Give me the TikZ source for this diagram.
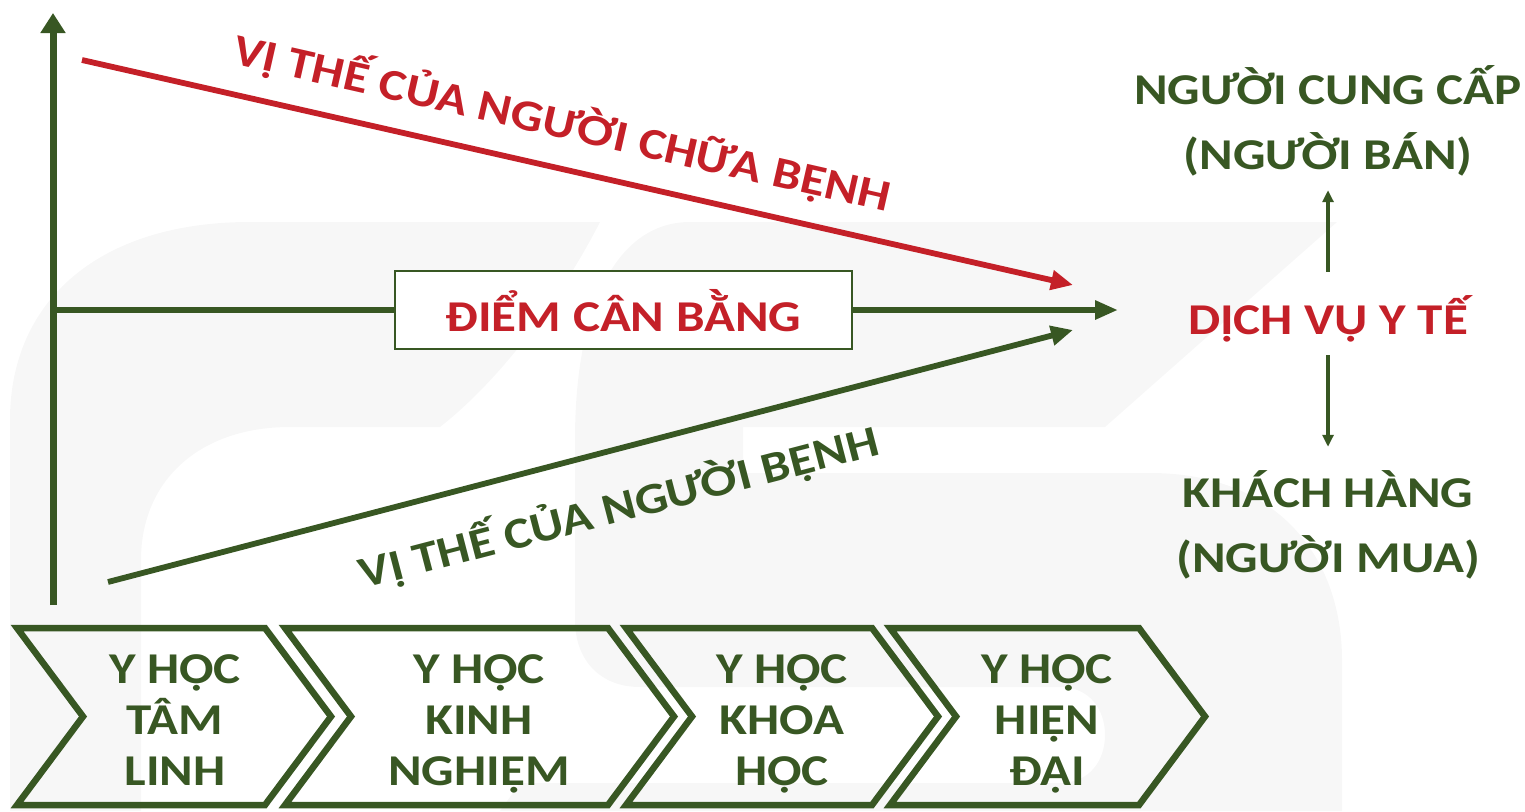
\documentclass[tikz,border=0pt]{standalone}
\usepackage{fontspec}
\setmainfont{Carlito}[FakeStretch=1.16]
\usetikzlibrary{arrows.meta}
\definecolor{dkgreen}{RGB}{56,87,35}
\definecolor{dkred}{RGB}{196,32,40}
\definecolor{wm}{RGB}{247,247,247}
\begin{document}
\begin{tikzpicture}[x=1pt,y=-1pt,
  font=\fontsize{44}{51}\selectfont\bfseries,
  lbl/.style={inner sep=0pt, text height=28pt, text depth=0pt},
  greenlbl/.style={lbl, text=dkgreen},
  redlbl/.style={lbl, text=dkred},
  axisline/.style={draw=dkgreen, line width=7pt, -{Triangle[length=20pt,width=24pt]}},
  mainline/.style={draw=dkgreen, line width=6pt},
  slopeline/.style={line width=5.8pt, -{Triangle[length=22pt,width=19pt]}},
  smallarrow/.style={draw=dkgreen, line width=3.5pt, -{Triangle[length=12pt,width=11pt]}},
  balbox/.style={draw=dkgreen, line width=2pt, fill=white, text=dkred,
    minimum width=457pt, minimum height=78pt, inner sep=0pt,
    text height=42pt, text depth=0pt},
  chev/.style={draw=dkgreen, line width=6.5pt, line join=miter},
  chevtxt/.style={inner sep=0pt, text=dkgreen, align=center, anchor=north}]
\useasboundingbox (0,0) rectangle (1525,811);

% faint background logo
\begin{scope}
  \clip (0,0) rectangle (1525,811);
  \fill[wm] (600,222) -- (250,222) .. controls (100,222) and (10,300) .. (10,420)
    -- (10,811) -- (141,811) -- (141,560) .. controls (141,480) and (200,427) .. (290,427)
    -- (440,427) .. controls (500,380) and (560,300) .. cycle;
  \fill[wm] (690,222) -- (1337,222) -- (1105,427) -- (743,427) -- (743,473) -- (1150,473)
    .. controls (1280,473) and (1342,560) .. (1342,660) -- (1342,811) -- (500,811)
    -- (520,783) -- (1060,783) .. controls (1090,783) and (1105,760) .. (1105,735)
    .. controls (1105,710) and (1090,687) .. (1060,687) -- (640,687)
    .. controls (600,687) and (575,660) .. (575,620) -- (575,440)
    .. controls (575,300) and (620,222) .. cycle;
\end{scope}

% axis and the three trend lines
\coordinate (o) at (53,605);
\coordinate (top) at (53,13);
\coordinate (mid) at (53,310);
\coordinate (hend) at (1118,310);
\coordinate (rs) at (82,60);
\coordinate (re) at (1073,285);
\coordinate (gs) at (108,582);
\coordinate (ge) at (1073,330);

\draw[axisline] (o) -- (top);
\node[balbox] (bal) at (623.5,310) {ĐIỂM CÂN BẰNG};
\draw[mainline] (mid) -- (bal.west);
\draw[mainline, -{Triangle[length=23pt,width=18pt]}] (bal.east) -- (hend);
\draw[slopeline, draw=dkred, fill=dkred] (rs) -- (re);
\draw[slopeline, draw=dkgreen, fill=dkgreen] (gs) -- (ge);

\node[redlbl, rotate=-12.8] (healer) at (562,124) {VỊ THẾ CỦA NGƯỜI CHỮA BỆNH};
\node[greenlbl, rotate=14.6] (patient) at (619,508) {VỊ THẾ CỦA NGƯỜI BỆNH};

% right-hand column
\node[greenlbl] (sellA) at (1328,90) {NGƯỜI CUNG CẤP};
\node[greenlbl] (sellB) at (1328,155) {(NGƯỜI BÁN)};
\node[redlbl] (svc) at (1328,320) {DỊCH VỤ Y TẾ};
\node[greenlbl] (buyA) at (1328,493) {KHÁCH HÀNG};
\node[greenlbl] (buyB) at (1328,558) {(NGƯỜI MUA)};
\draw[smallarrow, shorten <=34pt, shorten >=21pt] (svc.north) -- (sellB.south);
\draw[smallarrow, shorten <=21pt, shorten >=32pt] (svc.south) -- (buyA.north);

% stages along the bottom
\draw[chev] (17,628) -- (265,628) -- (331,716.5) -- (265,805) -- (17,805) -- (83,716.5) -- cycle;
\draw[chev] (285,628) -- (608,628) -- (674,716.5) -- (608,805) -- (285,805) -- (351,716.5) -- cycle;
\draw[chev] (626,628) -- (872,628) -- (938,716.5) -- (872,805) -- (626,805) -- (692,716.5) -- cycle;
\draw[chev] (890,628) -- (1139,628) -- (1205,716.5) -- (1139,805) -- (890,805) -- (956,716.5) -- cycle;
\node[chevtxt] (st1) at (175,654) {Y HỌC\\TÂM\\LINH};
\node[chevtxt] (st2) at (479,654) {Y HỌC\\KINH\\NGHIỆM};
\node[chevtxt] (st3) at (782,654) {Y HỌC\\KHOA\\HỌC};
\node[chevtxt] (st4) at (1047,654) {Y HỌC\\HIỆN\\ĐẠI};
\end{tikzpicture}
\end{document}
